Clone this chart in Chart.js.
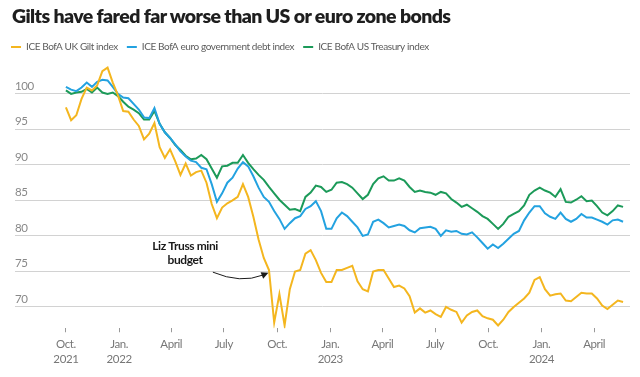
<!DOCTYPE html>
<html lang="en">
<head>
  <meta charset="UTF-8">
  <title>Gilts have fared far worse than US or euro zone bonds</title>
  <style>
    body { margin: 0; background: #fff; }
    #wrap { position: relative; width: 640px; height: 377px; }
    #headline { position: absolute; left: 12px; top: 6px; margin: 0; font: 800 19.5px/19px Lato, sans-serif; letter-spacing: -0.6px; color: #1e1e1e; white-space: nowrap; }
    canvas { position: absolute; left: 0; top: 0; }
  </style>
  <script src="https://cdn.jsdelivr.net/npm/chart.js"></script>
</head>
<body>
  <div id="wrap">
    <canvas id="chart" width="640" height="377"></canvas>
    <h1 id="headline">Gilts have fared far worse than US or euro zone bonds</h1>
  </div>
  <script>
    // days since 1 Oct 2021
    const days = [
      0, 9, 18, 27, 36, 45, 54, 63, 72, 81,
      90, 99, 108, 117, 126, 135, 144, 153, 162, 171,
      180, 189, 198, 207, 216, 225, 234, 243, 252, 261,
      270, 279, 288, 297, 306, 315, 324, 333, 342, 351,
      360, 369, 378, 387, 396, 405, 414, 423, 432, 441,
      450, 459, 468, 477, 486, 495, 504, 513, 522, 531,
      540, 549, 558, 567, 576, 585, 594, 603, 612, 621,
      630, 639, 648, 657, 666, 675, 684, 693, 702, 711,
      720, 729, 738, 747, 756, 765, 774, 783, 792, 801,
      810, 819, 828, 837, 846, 855, 864, 873, 882, 891,
      900, 909, 918, 927, 936, 945, 954, 963
    ];

    const giltIndex = [
      98.1, 96.3, 97.0, 99.3, 100.9, 100.5, 101.2, 103.2, 103.7, 101.6,
      99.8, 97.6, 97.5, 96.4, 95.5, 93.6, 94.4, 95.9, 92.5, 91.0,
      92.2, 90.5, 88.6, 90.2, 88.5, 89.0, 89.2, 87.5, 84.5, 82.5,
      84.0, 84.6, 85.0, 85.5, 87.3, 85.5, 82.7, 79.5, 76.9, 75.2,
      67.8, 71.8, 67.4, 72.5, 75.0, 75.2, 77.5, 78.0, 76.6, 74.8,
      73.5, 73.5, 75.2, 75.2, 75.5, 75.8, 73.6, 72.5, 72.2, 75.0,
      75.2, 75.2, 74.0, 72.8, 73.0, 72.6, 71.5, 69.2, 69.8, 69.2,
      69.5, 69.0, 68.6, 70.0, 69.6, 69.3, 67.8, 68.8, 69.3, 69.5,
      68.7, 68.4, 68.2, 67.4, 68.2, 69.3, 70.0, 70.6, 71.2, 72.0,
      73.8, 74.2, 72.5, 71.6, 71.8, 71.9, 70.9, 70.8, 71.4, 72.0,
      71.9, 71.9, 71.2, 70.2, 69.7, 70.3, 70.9, 70.7
    ];

    const euroIndex = [
      101.0, 100.6, 100.4, 100.9, 101.6, 101.0, 101.7, 102.0, 101.9, 101.0,
      100.0, 99.5, 99.4, 98.6, 97.8, 96.7, 96.6, 98.0, 95.8, 94.6,
      93.8, 92.9, 91.9, 91.2, 90.6, 90.4, 89.6, 89.4, 87.3, 84.8,
      86.0, 87.5, 88.2, 89.5, 90.4, 89.8, 88.4, 86.8, 85.5, 84.8,
      83.5, 82.4, 81.0, 81.8, 82.5, 82.8, 83.8, 84.2, 84.9, 83.5,
      81.0, 81.0, 82.5, 83.3, 82.8, 82.0, 81.2, 80.0, 80.2, 82.0,
      82.3, 81.8, 81.2, 81.4, 81.6, 81.4, 80.8, 80.5, 81.1, 81.2,
      81.3, 81.0, 80.0, 80.8, 80.6, 80.7, 80.3, 80.2, 80.5, 79.8,
      79.0, 78.2, 78.8, 78.3, 78.9, 79.6, 80.3, 80.7, 82.2, 83.3,
      84.2, 84.2, 83.2, 82.7, 82.4, 83.3, 82.4, 82.0, 82.4, 83.1,
      82.6, 82.6, 82.3, 82.0, 81.6, 82.2, 82.3, 82.0
    ];

    const usIndex = [
      100.5, 100.0, 100.2, 100.3, 100.7, 100.2, 100.9, 100.2, 100.0, 100.2,
      99.7, 98.9, 98.2, 97.8, 97.3, 96.4, 96.4, 97.6, 95.8, 94.6,
      93.8, 92.8, 92.1, 91.3, 90.8, 90.9, 91.4, 90.8, 89.5, 88.2,
      89.8, 89.9, 90.3, 90.3, 91.4, 90.3, 89.4, 88.6, 87.9, 86.9,
      86.0, 85.1, 84.4, 83.7, 83.8, 83.5, 85.5, 86.1, 87.1, 86.9,
      86.2, 86.5, 87.5, 87.6, 87.3, 86.8, 86.0, 85.2, 85.8, 87.3,
      88.1, 88.4, 87.8, 87.8, 88.1, 87.8, 86.9, 86.2, 86.4, 86.2,
      86.1, 85.8, 86.2, 86.0, 85.2, 84.7, 84.1, 84.4, 83.9, 83.4,
      82.8, 82.4, 81.7, 81.0, 81.7, 82.7, 83.1, 83.5, 84.3, 85.8,
      86.4, 86.8, 86.4, 86.1, 85.5, 86.6, 84.8, 84.7, 85.1, 85.6,
      84.9, 85.0, 84.2, 83.3, 82.9, 83.5, 84.3, 84.1
    ];

    const seriesNames = ['ICE BofA UK Gilt index', 'ICE BofA euro government debt index', 'ICE BofA US Treasury index'];
    const seriesColors = ['#f4b61f', '#23a2e0', '#1c9a59'];

    const tickDays = [0, 92, 182, 273, 365, 457, 547, 638, 730, 822, 913];
    const tickLabels = [['Oct.', '2021'], ['Jan.', '2022'], 'April', 'July', 'Oct.', ['Jan.', '2023'], 'April', 'July', 'Oct.', ['Jan.', '2024'], 'April'];
    const yTicks = [70, 75, 80, 85, 90, 95, 100];

    // annotation anchor points (data coordinates)
    const note = { lines: ['Liz Truss mini', 'budget'], day: 206, value: 78.5, fromDay: 254, fromValue: 74.9, toDay: 350, toValue: 74.8 };

    const FONT = 'Lato, sans-serif';

    // tighter text, closer to the original's narrow face
    const tightText = {
      id: 'tightText',
      afterInit(chart) { chart.ctx.letterSpacing = '-0.4px'; }
    };

    const notePlugin = {
      id: 'miniBudget',
      afterDatasetsDraw(chart) {
        const { ctx, scales: { x, y } } = chart;
        ctx.save();
        ctx.fillStyle = '#1a1a1a';
        ctx.strokeStyle = '#1a1a1a';
        ctx.font = '700 12px ' + FONT;
        ctx.textAlign = 'center';
        ctx.textBaseline = 'middle';
        const tx = x.getPixelForValue(note.day);
        const ty = y.getPixelForValue(note.value);
        note.lines.forEach((t, i) => ctx.fillText(t, tx, ty + i * 14));

        const x0 = x.getPixelForValue(note.fromDay), y0 = y.getPixelForValue(note.fromValue);
        const x1 = x.getPixelForValue(note.toDay), y1 = y.getPixelForValue(note.toValue);
        const cx = (x0 + x1) / 2, cy = Math.max(y0, y1) + 11;
        const ang = Math.atan2(y1 - cy, x1 - cx);
        const hx = x1 - 6 * Math.cos(ang), hy = y1 - 6 * Math.sin(ang);
        ctx.lineWidth = 1;
        ctx.beginPath();
        ctx.moveTo(x0, y0);
        ctx.quadraticCurveTo(cx, cy, hx, hy);
        ctx.stroke();
        ctx.beginPath();
        ctx.moveTo(x1, y1);
        ctx.lineTo(x1 - 7 * Math.cos(ang) + 3.5 * Math.sin(ang), y1 - 7 * Math.sin(ang) - 3.5 * Math.cos(ang));
        ctx.lineTo(x1 - 7 * Math.cos(ang) - 3.5 * Math.sin(ang), y1 - 7 * Math.sin(ang) + 3.5 * Math.cos(ang));
        ctx.closePath();
        ctx.fill();
        ctx.restore();
      }
    };

    const series = [giltIndex, euroIndex, usIndex];

    new Chart(document.getElementById('chart'), {
      type: 'line',
      data: {
        datasets: series.map((vals, i) => ({
          label: seriesNames[i],
          data: days.map((d, j) => ({ x: d, y: vals[j] })),
          borderColor: seriesColors[i],
          backgroundColor: seriesColors[i],
          borderWidth: 2,
          pointRadius: 0,
          tension: 0
        }))
      },
      options: {
        responsive: false,
        animation: false,
        devicePixelRatio: 1,
        layout: { padding: { left: 2, right: 10, top: 33, bottom: 6 } },
        plugins: {
          title: { display: false },
          tooltip: { enabled: false },
          legend: {
            display: true,
            align: 'start',
            labels: {
              usePointStyle: true,
              pointStyle: 'line',
              pointStyleWidth: 10,
              boxHeight: 2,
              padding: 9,
              color: '#5c5c5c',
              font: { family: FONT, size: 10 }
            }
          }
        },
        scales: {
          x: {
            type: 'linear',
            min: -88,
            max: 975,
            border: { display: false },
            grid: { drawOnChartArea: false, tickLength: 4, tickColor: '#999' },
            afterBuildTicks: s => { s.ticks = tickDays.map(v => ({ value: v })); },
            ticks: {
              autoSkip: false,
              maxRotation: 0,
              padding: 5,
              color: '#777',
              font: { family: FONT, size: 11.5, lineHeight: 1.25 },
              callback: (v, i) => tickLabels[i]
            }
          },
          y: {
            min: 67,
            max: 104.5,
            border: { display: false },
            grid: { color: '#d2d2d2', drawTicks: false },
            afterBuildTicks: s => { s.ticks = yTicks.map(v => ({ value: v })); },
            afterFit: s => { s.width = 13; },
            ticks: {
              mirror: true,
              padding: 0,
              labelOffset: -8,
              color: '#888',
              font: { family: FONT, size: 11.5 }
            }
          }
        }
      },
      plugins: [tightText, notePlugin]
    });
  </script>
</body>
</html>
